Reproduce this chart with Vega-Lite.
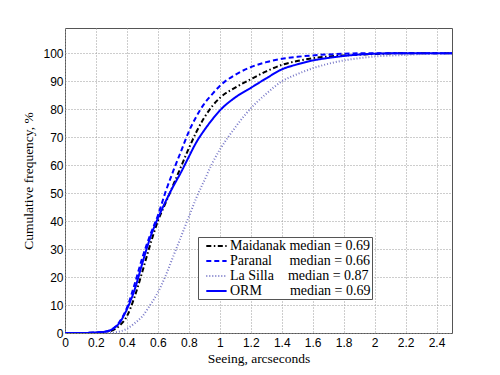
{
  "$schema": "https://vega.github.io/schema/vega-lite/v6.json",
  "width": 387,
  "height": 305,
  "autosize": {"type": "none"},
  "padding": {"left": 65, "top": 28, "right": 48, "bottom": 42},
  "background": "white",
  "config": {
    "view": {"stroke": "#555555", "strokeWidth": 1},
    "axis": {
      "domain": false,
      "ticks": false,
      "grid": true,
      "gridColor": "#9a9a9a",
      "gridDash": [1, 2],
      "gridWidth": 1,
      "labelFont": "Liberation Sans",
      "labelFontSize": 12,
      "labelColor": "black",
      "titleFont": "Liberation Serif",
      "titleFontSize": 13.5,
      "titleFontWeight": "normal",
      "titleColor": "black"
    }
  },
  "data": {
    "values": [
      {"series": "Maidanak", "x": 0, "y": 0},
      {"series": "Maidanak", "x": 0.1, "y": 0},
      {"series": "Maidanak", "x": 0.2, "y": 0.1},
      {"series": "Maidanak", "x": 0.25, "y": 0.3},
      {"series": "Maidanak", "x": 0.3, "y": 0.8},
      {"series": "Maidanak", "x": 0.35, "y": 2.5},
      {"series": "Maidanak", "x": 0.4, "y": 6},
      {"series": "Maidanak", "x": 0.45, "y": 13},
      {"series": "Maidanak", "x": 0.5, "y": 22},
      {"series": "Maidanak", "x": 0.55, "y": 31.5},
      {"series": "Maidanak", "x": 0.6, "y": 40},
      {"series": "Maidanak", "x": 0.65, "y": 46.5},
      {"series": "Maidanak", "x": 0.7, "y": 53},
      {"series": "Maidanak", "x": 0.75, "y": 59.5},
      {"series": "Maidanak", "x": 0.8, "y": 66},
      {"series": "Maidanak", "x": 0.85, "y": 72},
      {"series": "Maidanak", "x": 0.9, "y": 77},
      {"series": "Maidanak", "x": 0.95, "y": 81},
      {"series": "Maidanak", "x": 1.0, "y": 84},
      {"series": "Maidanak", "x": 1.1, "y": 87.7},
      {"series": "Maidanak", "x": 1.2, "y": 90.7},
      {"series": "Maidanak", "x": 1.3, "y": 93.5},
      {"series": "Maidanak", "x": 1.4, "y": 95.8},
      {"series": "Maidanak", "x": 1.5, "y": 97.2},
      {"series": "Maidanak", "x": 1.6, "y": 98.2},
      {"series": "Maidanak", "x": 1.8, "y": 99.2},
      {"series": "Maidanak", "x": 2.0, "y": 99.7},
      {"series": "Maidanak", "x": 2.2, "y": 100},
      {"series": "Maidanak", "x": 2.5, "y": 100},
      {"series": "Paranal", "x": 0, "y": 0},
      {"series": "Paranal", "x": 0.1, "y": 0},
      {"series": "Paranal", "x": 0.2, "y": 0.2},
      {"series": "Paranal", "x": 0.25, "y": 0.4},
      {"series": "Paranal", "x": 0.3, "y": 1.2},
      {"series": "Paranal", "x": 0.35, "y": 3.8},
      {"series": "Paranal", "x": 0.4, "y": 9},
      {"series": "Paranal", "x": 0.45, "y": 17.5},
      {"series": "Paranal", "x": 0.5, "y": 27},
      {"series": "Paranal", "x": 0.55, "y": 35},
      {"series": "Paranal", "x": 0.6, "y": 42},
      {"series": "Paranal", "x": 0.65, "y": 50.5},
      {"series": "Paranal", "x": 0.7, "y": 58},
      {"series": "Paranal", "x": 0.75, "y": 65},
      {"series": "Paranal", "x": 0.8, "y": 72},
      {"series": "Paranal", "x": 0.85, "y": 77.5},
      {"series": "Paranal", "x": 0.9, "y": 82},
      {"series": "Paranal", "x": 0.95, "y": 85.3},
      {"series": "Paranal", "x": 1.0, "y": 88.3},
      {"series": "Paranal", "x": 1.1, "y": 92.3},
      {"series": "Paranal", "x": 1.2, "y": 95},
      {"series": "Paranal", "x": 1.3, "y": 96.8},
      {"series": "Paranal", "x": 1.4, "y": 98},
      {"series": "Paranal", "x": 1.5, "y": 98.7},
      {"series": "Paranal", "x": 1.6, "y": 99.2},
      {"series": "Paranal", "x": 1.8, "y": 99.8},
      {"series": "Paranal", "x": 2.0, "y": 100},
      {"series": "Paranal", "x": 2.5, "y": 100},
      {"series": "La Silla", "x": 0, "y": 0},
      {"series": "La Silla", "x": 0.2, "y": 0},
      {"series": "La Silla", "x": 0.3, "y": 0.1},
      {"series": "La Silla", "x": 0.35, "y": 0.5},
      {"series": "La Silla", "x": 0.4, "y": 1.5},
      {"series": "La Silla", "x": 0.45, "y": 3.5},
      {"series": "La Silla", "x": 0.5, "y": 6},
      {"series": "La Silla", "x": 0.55, "y": 10},
      {"series": "La Silla", "x": 0.6, "y": 14.5},
      {"series": "La Silla", "x": 0.65, "y": 20.5},
      {"series": "La Silla", "x": 0.7, "y": 27.5},
      {"series": "La Silla", "x": 0.75, "y": 34.5},
      {"series": "La Silla", "x": 0.8, "y": 41.5},
      {"series": "La Silla", "x": 0.85, "y": 48.5},
      {"series": "La Silla", "x": 0.9, "y": 54.5},
      {"series": "La Silla", "x": 0.95, "y": 60.5},
      {"series": "La Silla", "x": 1.0, "y": 65.5},
      {"series": "La Silla", "x": 1.05, "y": 69.7},
      {"series": "La Silla", "x": 1.1, "y": 73.5},
      {"series": "La Silla", "x": 1.2, "y": 80.3},
      {"series": "La Silla", "x": 1.3, "y": 85.5},
      {"series": "La Silla", "x": 1.4, "y": 89.9},
      {"series": "La Silla", "x": 1.5, "y": 92.5},
      {"series": "La Silla", "x": 1.6, "y": 94.6},
      {"series": "La Silla", "x": 1.7, "y": 96.2},
      {"series": "La Silla", "x": 1.8, "y": 97.4},
      {"series": "La Silla", "x": 1.9, "y": 98.2},
      {"series": "La Silla", "x": 2.0, "y": 98.8},
      {"series": "La Silla", "x": 2.2, "y": 99.4},
      {"series": "La Silla", "x": 2.4, "y": 99.9},
      {"series": "La Silla", "x": 2.5, "y": 100},
      {"series": "ORM", "x": 0, "y": 0},
      {"series": "ORM", "x": 0.1, "y": 0},
      {"series": "ORM", "x": 0.2, "y": 0.2},
      {"series": "ORM", "x": 0.25, "y": 0.4},
      {"series": "ORM", "x": 0.3, "y": 1.2},
      {"series": "ORM", "x": 0.35, "y": 3.5},
      {"series": "ORM", "x": 0.4, "y": 8.5},
      {"series": "ORM", "x": 0.45, "y": 15.5},
      {"series": "ORM", "x": 0.5, "y": 25},
      {"series": "ORM", "x": 0.55, "y": 34},
      {"series": "ORM", "x": 0.6, "y": 41},
      {"series": "ORM", "x": 0.65, "y": 47},
      {"series": "ORM", "x": 0.7, "y": 52.5},
      {"series": "ORM", "x": 0.75, "y": 57.5},
      {"series": "ORM", "x": 0.8, "y": 63},
      {"series": "ORM", "x": 0.85, "y": 68.3},
      {"series": "ORM", "x": 0.9, "y": 72.5},
      {"series": "ORM", "x": 0.95, "y": 76.2},
      {"series": "ORM", "x": 1.0, "y": 79.5},
      {"series": "ORM", "x": 1.1, "y": 84.2},
      {"series": "ORM", "x": 1.2, "y": 87.6},
      {"series": "ORM", "x": 1.3, "y": 91},
      {"series": "ORM", "x": 1.4, "y": 94.2},
      {"series": "ORM", "x": 1.5, "y": 96},
      {"series": "ORM", "x": 1.6, "y": 97.4},
      {"series": "ORM", "x": 1.7, "y": 98.3},
      {"series": "ORM", "x": 1.8, "y": 99},
      {"series": "ORM", "x": 1.9, "y": 99.5},
      {"series": "ORM", "x": 2.0, "y": 99.8},
      {"series": "ORM", "x": 2.2, "y": 100},
      {"series": "ORM", "x": 2.5, "y": 100}
    ]
  },
  "mark": {"type": "line", "interpolate": "monotone", "clip": true},
  "encoding": {
    "x": {
      "field": "x",
      "type": "quantitative",
      "scale": {"domain": [0, 2.5], "nice": false, "zero": false},
      "axis": {
        "values": [0, 0.2, 0.4, 0.6, 0.8, 1, 1.2, 1.4, 1.6, 1.8, 2, 2.2, 2.4],
        "format": "~g",
        "labelPadding": 4,
        "title": "Seeing, arcseconds",
        "titlePadding": 3,
        "labelFlush": false
      }
    },
    "y": {
      "field": "y",
      "type": "quantitative",
      "scale": {"domain": [0, 109], "nice": false},
      "axis": {
        "values": [0, 10, 20, 30, 40, 50, 60, 70, 80, 90, 100],
        "labelPadding": 2,
        "title": "Cumulative frequency, %",
        "titlePadding": 7,
        "labelFlush": false
      }
    },
    "color": {
      "field": "series",
      "type": "nominal",
      "scale": {
        "domain": ["Maidanak", "Paranal", "La Silla", "ORM"],
        "range": ["#000000", "#0000ff", "#7a7ac8", "#0000ff"]
      },
      "legend": {
        "orient": "none",
        "legendX": 133,
        "legendY": 209,
        "title": null,
        "symbolType": "M-0.1,0H2.8",
        "symbolSize": 196,
        "symbolStrokeWidth": 2,
        "labelFont": "Liberation Serif",
        "labelFontSize": 14,
        "labelColor": "black",
        "labelOffset": 15,
        "rowPadding": -2,
        "padding": 1,
        "strokeColor": "#555555",
        "fillColor": "white",
        "labelLimit": 300,
        "labelExpr": "datum.label == 'Maidanak' ? 'Maidanak median = 0.69\u00a0\u00a0\u00a0' : datum.label == 'Paranal' ? 'Paranal\u00a0\u00a0\u00a0\u00a0\u00a0median = 0.66\u00a0\u00a0\u00a0' : datum.label == 'La Silla' ? 'La Silla\u00a0\u00a0\u00a0\u00a0median = 0.87\u00a0\u00a0\u00a0' : 'ORM\u00a0\u00a0\u00a0\u00a0\u00a0\u00a0\u00a0\u00a0median = 0.69\u00a0\u00a0\u00a0'"
      }
    },
    "strokeDash": {
      "field": "series",
      "type": "nominal",
      "scale": {
        "domain": ["Maidanak", "Paranal", "La Silla", "ORM"],
        "range": [[5, 2.5, 1.5, 2.5], [5, 3], [1, 2], [1, 0]]
      }
    },
    "strokeWidth": {
      "field": "series",
      "type": "nominal",
      "scale": {
        "domain": ["Maidanak", "Paranal", "La Silla", "ORM"],
        "range": [2, 2, 1.2, 2]
      }
    }
  }
}
